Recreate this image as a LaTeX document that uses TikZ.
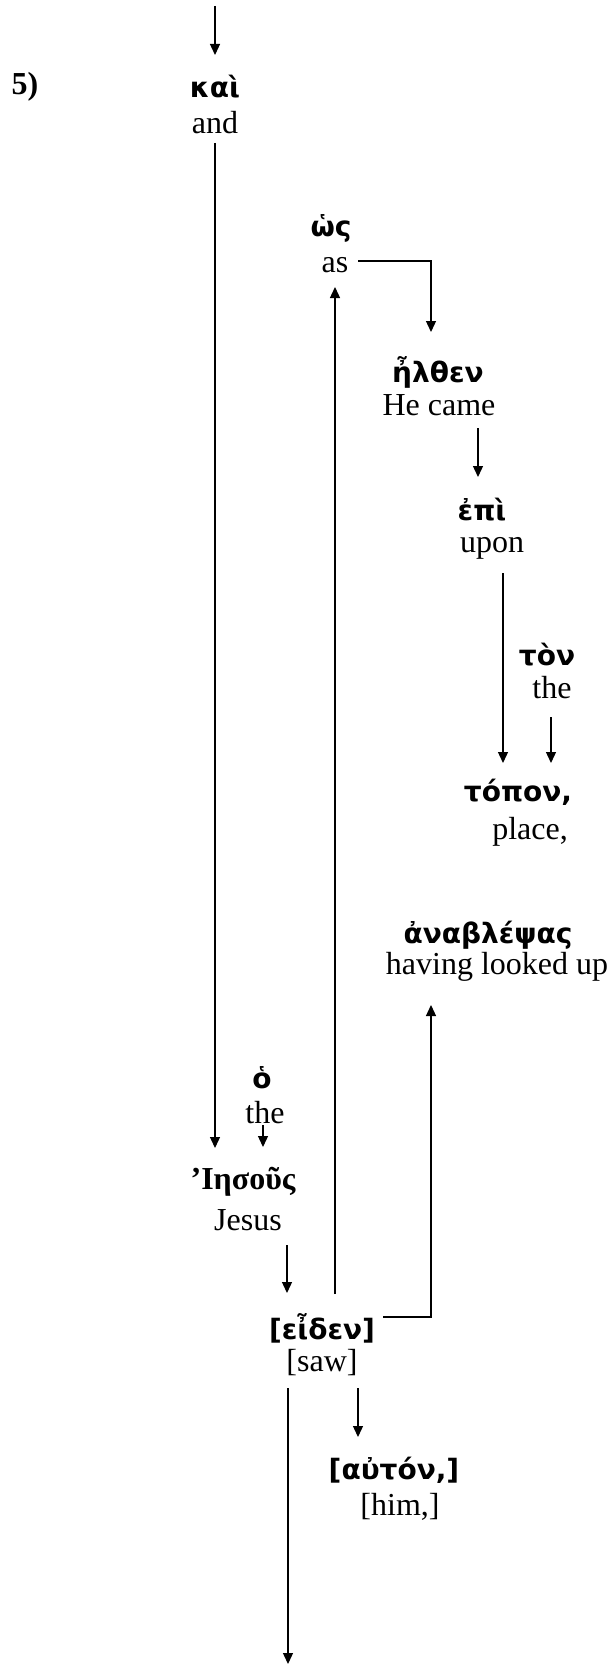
\documentclass[tikz,border=0pt]{standalone}
\usepackage{fontspec}
\setmainfont{Liberation Serif}
\newfontfamily\gk{DejaVu Sans}
\usetikzlibrary{arrows.meta,calc}
\tikzset{
  gr/.style={inner sep=0pt, font=\gk\bfseries\fontsize{14}{16}\selectfont},
  en/.style={inner sep=0pt, font=\fontsize{16}{19}\selectfont},
  sb/.style={inner sep=0pt, font=\bfseries\fontsize{16}{19}\selectfont},
  arr/.style={line width=0.65pt, -{Triangle[length=5.5pt,width=5pt]}},
  ln/.style={line width=0.65pt}
}
\begin{document}
\begin{tikzpicture}[x=0.5pt,y=-0.5pt]
\useasboundingbox (0,0) rectangle (611,1664);
% nodes
\node[sb] (num) at (25,87) {5)};
\node[gr] (kai) at (215,87) {καὶ};
\node[en] (and) at (215,123) {and};
\node[gr] (hos) at (331,228) {ὡς};
\node[en] (as) at (335,265) {as};
\node[gr] (elthen) at (438,372) {ἦλθεν};
\node[en] (came) at (439,405) {He came};
\node[gr] (epi) at (482,510) {ἐπὶ};
\node[en] (upon) at (492,548) {upon};
\node[gr] (ton) at (547,655) {τὸν};
\node[en] (the1) at (552,688) {the};
\node[gr] (topon) at (518,792) {τόπον,};
\node[en] (place) at (530,832) {place,};
\node[gr] (anab) at (488,935) {ἀναβλέψας};
\node[en] (looked) at (497,967) {having looked up};
\node[gr] (ho) at (262,1078) {ὁ};
\node[en] (the2) at (265,1113) {the};
\node[sb] (iesous) at (243,1182) {’Ιησοῦς};
\node[en] (jesus) at (248,1220) {Jesus};
\node[gr] (eiden) at (322,1328) {[εἶδεν]};
\node[en] (saw) at (322,1363) {[saw]};
\node[gr] (auton) at (394,1470) {[αὐτόν,]};
\node[en] (him) at (400,1507) {[him,]};
\coordinate (top) at (215,6);
\coordinate (bottom) at (288,1664);
% connectors
\draw[arr] (top) -- ($(kai)+(0,-32)$);
\draw[arr] ($(and)+(0,20)$) -- ($(iesous)+(-28,-34)$);
\draw[arr] ($(as)+(23,-4)$) -| ($(elthen)+(-7,-40)$);
\draw[arr] ($(came)+(39,23)$) -- ($(epi)+(-4,-33)$);
\draw[arr] ($(upon)+(11,25)$) -- ($(topon)+(-15,-29)$);
\draw[arr] ($(the1)+(-1,29)$) -- ($(topon)+(33,-29)$);
\draw[arr] ($(the2)+(-2,12)$) -- ($(iesous)+(20,-35)$);
\draw[arr] ($(jesus)+(39,25)$) -- ($(eiden)+(-35,-35)$);
\draw[arr] ($(eiden)+(13,-34)$) -- ($(as)+(0,22)$);
\draw[arr] ($(eiden)+(61,-11)$) -| ($(looked)+(-66,38)$);
\draw[arr] ($(saw)+(-34,25)$) -- (bottom);
\draw[arr] ($(saw)+(36,25)$) -- ($(auton)+(-36,-33)$);
\end{tikzpicture}
\end{document}
